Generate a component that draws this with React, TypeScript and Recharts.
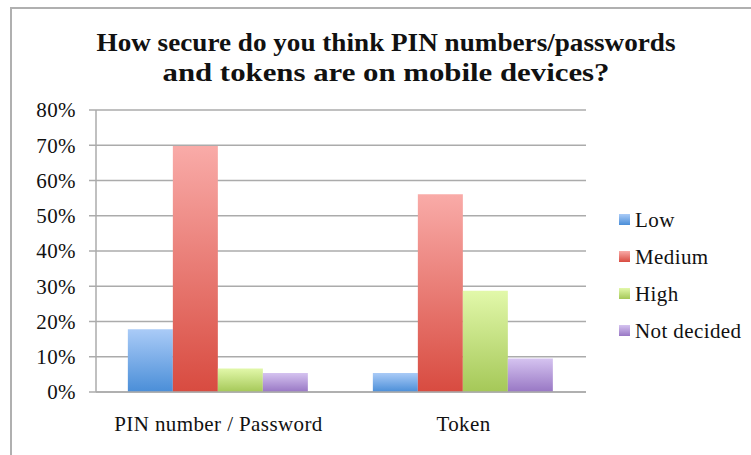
import React from 'react';
import { BarChart, Bar, XAxis, YAxis, CartesianGrid } from 'recharts';

const categories = ['PIN number / Password', 'Token'];
const seriesNames = ['Low', 'Medium', 'High', 'Not decided'];
const lowValues = [17.8, 5.4];
const mediumValues = [69.8, 56.1];
const highValues = [6.7, 28.7];
const notDecidedValues = [5.4, 9.5];
const yTicks = [0, 10, 20, 30, 40, 50, 60, 70, 80];
const titleLines = ['How secure do you think PIN numbers/passwords', 'and tokens are on mobile devices?'];

const seriesKeys = ['low', 'medium', 'high', 'nd'];
const gradients = [
  ['#aacbf7', '#4a8ed8'],
  ['#f9aba8', '#d84b40'],
  ['#e2f8aa', '#a5c858'],
  ['#d5c3f0', '#9877c4'],
];

const data = categories.map((c, i) => ({
  name: c,
  idx: i + 0.5,
  low: lowValues[i],
  medium: mediumValues[i],
  high: highValues[i],
  nd: notDecidedValues[i],
}));

const FONT = '"Liberation Serif", serif';

const LegendBox = () => (
  <div style={{ position: 'absolute', left: 619, top: 202, fontFamily: FONT, fontSize: 21, color: '#111', letterSpacing: 0.4 }}>
    {seriesNames.map((n, i) => (
      <div key={n} style={{ display: 'flex', alignItems: 'center', height: 37 }}>
        <div
          style={{
            width: 11,
            height: 11,
            marginRight: 5,
            marginTop: -2,
            background: `linear-gradient(${gradients[i][0]}, ${gradients[i][1]})`,
          }}
        />
        <span>{n}</span>
      </div>
    ))}
  </div>
);

export default function App() {
  return (
    <div style={{ position: 'absolute', left: 0, top: 0, width: 751, height: 455, background: '#fff', overflow: 'hidden' }}>
      <div
        style={{
          position: 'absolute',
          left: 10,
          top: 7,
          width: 760,
          height: 470,
          borderLeft: '2px solid #b0b0b0',
          borderTop: '2px solid #b0b0b0',
        }}
      />
      <svg style={{ position: 'absolute', left: 0, top: 0 }} width={751} height={100}>
        <text x={386} y={51} textAnchor="middle" fontFamily={FONT} fontWeight="bold" fontSize={25} fill="#111" textLength={579} lengthAdjust="spacingAndGlyphs">
          {titleLines[0]}
        </text>
        <text x={386} y={81} textAnchor="middle" fontFamily={FONT} fontWeight="bold" fontSize={25} fill="#111" textLength={447} lengthAdjust="spacingAndGlyphs">
          {titleLines[1]}
        </text>
      </svg>
      <div style={{ position: 'absolute', left: 0, top: 0 }}>
        <BarChart
          width={751}
          height={455}
          data={data}
          margin={{ top: 110, right: 165, bottom: 23, left: 0 }}
          barCategoryGap="13%"
          barGap={0}
        >
          <defs>
            {gradients.map((g, i) => (
              <linearGradient key={i} id={`grad${i}`} x1="0" y1="0" x2="0" y2="1">
                <stop offset="0%" stopColor={g[0]} />
                <stop offset="100%" stopColor={g[1]} />
              </linearGradient>
            ))}
          </defs>
          <CartesianGrid vertical={false} stroke="#ababab" strokeWidth={1.5} />
          <XAxis
            dataKey="name"
            xAxisId="cat"
            height={40}
            tickLine={false}
            axisLine={{ stroke: '#ababab', strokeWidth: 1.5 }}
            tick={{ fontFamily: FONT, fontSize: 21, fill: '#111', letterSpacing: 0.4 }}
            tickMargin={18}
            interval={0}
          />
          <XAxis
            xAxisId="bound"
            type="number"
            dataKey="idx"
            domain={[0, 2]}
            ticks={[0, 1, 2]}
            height={0}
            axisLine={false}
            tick={false}
            tickSize={6}
            tickLine={{ stroke: '#ababab', strokeWidth: 1.5 }}
          />
          <YAxis
            width={96}
            domain={[0, 80]}
            ticks={yTicks}
            tickFormatter={(v) => `${v}%`}
            tick={{ fontFamily: FONT, fontSize: 21, fill: '#111', letterSpacing: 0.4 }}
            tickSize={7}
            tickMargin={13}
            axisLine={{ stroke: '#ababab', strokeWidth: 1.5 }}
            tickLine={{ stroke: '#ababab', strokeWidth: 1.5 }}
          />
          {seriesKeys.map((k, i) => (
            <Bar key={k} xAxisId="cat" dataKey={k} name={seriesNames[i]} fill={`url(#grad${i})`} isAnimationActive={false} />
          ))}
        </BarChart>
      </div>
      <LegendBox />
    </div>
  );
}
